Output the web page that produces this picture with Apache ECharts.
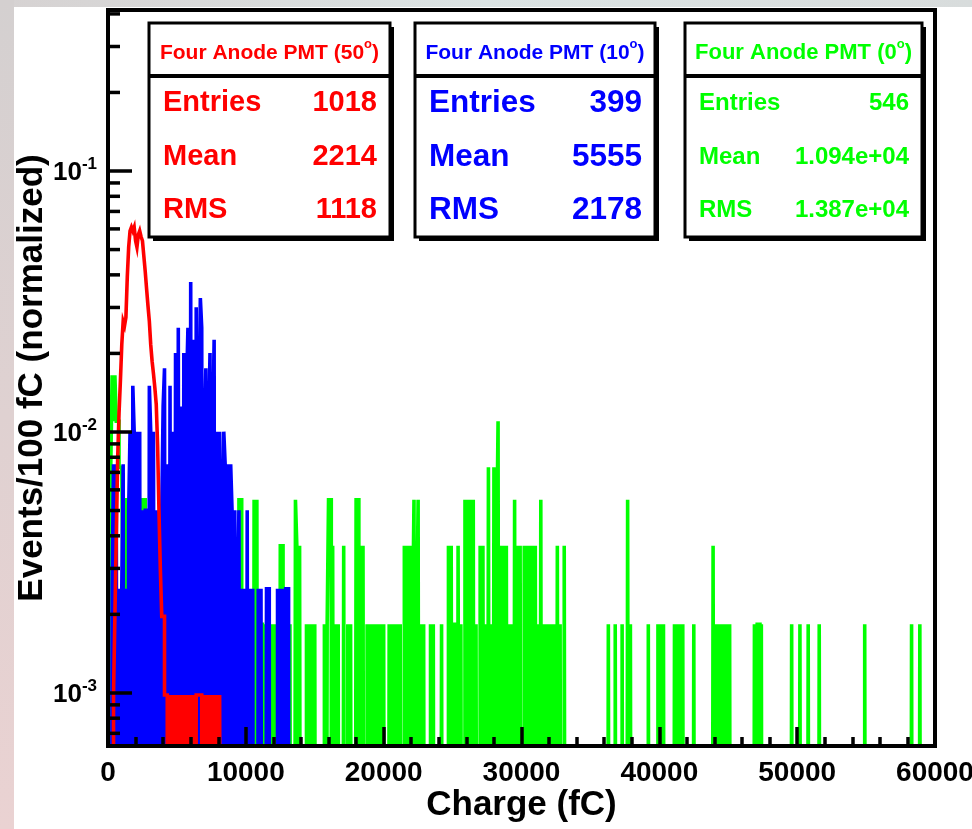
<!DOCTYPE html>
<html><head><meta charset="utf-8">
<script src="https://cdn.jsdelivr.net/npm/echarts@6/dist/echarts.min.js"></script>
<style>html,body{margin:0;padding:0;background:#fff}#c{width:972px;height:829px}</style>
</head><body><div id="c"></div>
<script>
// ---------------- data ----------------
const BIN_WIDTH = 100;      // fC per bin
const N_BINS = 600;         // 0 .. 60000 fC
const redEntries = 1018, blueEntries = 399, greenEntries = 546;

// red (50 deg): consecutive bin counts starting at bin 4 (400 fC)
const redFirstBin = 4;
const redCounts = [1,2,4,8,12,16,22,27,26,28,40,52,60,62,60,62,55,52,58,60,57,55,48,42,36,31,27,22,19,17,15,13,9,5,3,2,2,1,1,0,1,0,1,0,1,0,1,0,1,0,1,0,1,0,1,0,1,0,1,0,1,1,1,1,0,1,0,1,0,1,0,1,0,1,0,1,0,1,0];

// blue (10 deg): [bin, count] for non-empty bins
const blueBins = [[3,1],[4,3],[6,3],[8,1],[10,1],[11,3],[13,1],[15,2],[16,4],[18,6],[19,4],[21,4],[23,4],[25,2],[27,2],[28,2],[30,6],[31,4],[33,4],[35,2],[37,2],[39,2],[40,5],[41,7],[43,3],[45,6],[47,4],[49,8],[51,10],[53,5],[55,8],[57,6],[58,10],[60,15],[62,9],[64,12],[66,5],[67,13],[68,10],[70,4],[71,7],[73,4],[74,8],[76,4],[77,9],[79,4],[81,4],[83,2],[84,4],[85,3],[87,3],[89,3],[90,2],[92,2],[94,1],[95,2],[97,1],[99,1],[101,2],[103,1],[105,1],[109,1],[111,1],[115,1],[116,1],[123,1],[125,1],[127,1],[129,1],[130,1]];

// green (0 deg): [bin, count] for non-empty bins
const greenBins = [[2,4],[3,9],[4,6],[5,9],[6,6],[7,6],[8,4],[9,4],[10,4],[11,1],[13,3],[14,3],[16,1],[18,1],[20,1],[22,2],[23,2],[25,3],[26,3],[28,1],[30,2],[31,2],[32,2],[34,1],[36,1],[38,1],[40,4],[41,4],[42,4],[44,1],[46,1],[47,3],[48,3],[49,3],[51,1],[53,2],[55,2],[57,2],[59,2],[61,2],[63,1],[65,3],[66,2],[68,1],[70,2],[72,3],[73,3],[75,2],[77,1],[79,1],[81,1],[84,1],[86,1],[88,1],[90,1],[92,1],[95,3],[96,3],[98,1],[100,1],[102,1],[104,1],[106,3],[108,3],[110,1],[111,1],[113,1],[115,1],[117,1],[119,1],[121,1],[123,1],[125,2],[126,2],[128,1],[132,1],[136,3],[137,2],[139,2],[144,1],[146,1],[148,1],[150,1],[157,1],[159,1],[160,3],[161,3],[163,2],[165,1],[167,1],[171,2],[174,1],[176,1],[180,3],[181,3],[183,2],[185,2],[188,1],[190,1],[192,1],[194,1],[196,1],[198,1],[200,1],[204,1],[206,1],[208,1],[210,1],[212,1],[215,2],[217,2],[219,2],[221,1],[222,3],[224,1],[225,3],[227,1],[229,1],[234,1],[236,1],[242,1],[247,2],[249,2],[251,1],[252,1],[254,2],[256,1],[259,3],[261,3],[263,3],[265,3],[267,1],[270,2],[272,2],[274,1],[276,4],[278,1],[280,4],[282,2],[283,6],[285,2],[287,2],[289,2],[291,1],[293,1],[295,3],[297,2],[299,2],[302,2],[304,2],[306,2],[308,2],[310,2],[312,1],[314,3],[316,1],[318,1],[320,1],[322,1],[324,1],[326,2],[328,1],[331,2],[363,1],[368,1],[373,1],[377,3],[379,1],[392,1],[399,1],[401,1],[403,1],[411,1],[413,1],[415,1],[417,1],[425,1],[439,2],[441,1],[443,1],[445,1],[447,1],[449,1],[451,1],[469,1],[471,1],[472,1],[474,1],[496,1],[502,1],[508,1],[516,1],[549,1],[583,1],[589,1]];

// axis
const xMin = 0, xMax = 60000, xInterval = 10000;
const yMin = 6.26e-4, yMax = 0.414;
const yMinorTicks = [7e-4,8e-4,9e-4,2e-3,3e-3,4e-3,5e-3,6e-3,7e-3,8e-3,9e-3,2e-2,3e-2,4e-2,5e-2,6e-2,7e-2,8e-2,9e-2,2e-1,3e-1,4e-1];

// stat boxes
const statTitles = ['Four Anode PMT (50', 'Four Anode PMT (10', 'Four Anode PMT (0'];
const statLabels = ['Entries', 'Mean', 'RMS'];
const redStats = ['1018', '2214', '1118'];
const blueStats = ['399', '5555', '2178'];
const greenStats = ['546', '1.094e+04', '1.387e+04'];

// ---------------- build ----------------
const RED = '#ff0000', BLUE = '#0000ff', GREEN = '#00ff00';
const FLOOR = 1e-6;
const FONT = '"Liberation Sans", Arial, Helvetica, sans-serif';

function countsFromPairs(pairs) {
  const c = new Array(N_BINS).fill(0);
  pairs.forEach(p => { c[p[0]] = p[1]; });
  return c;
}
function countsFromRun(first, run) {
  const c = new Array(N_BINS).fill(0);
  run.forEach((v, i) => { c[first + i] = v; });
  return c;
}
function steps(counts, entries) {
  const pts = [];
  for (let i = 0; i < N_BINS; i++) pts.push([i * BIN_WIDTH, counts[i] > 0 ? counts[i] / entries : FLOOR]);
  pts.push([N_BINS * BIN_WIDTH, FLOOR]);
  return pts;
}
function histSeries(name, data, color, z) {
  return {
    name, type: 'line', data, step: 'end', showSymbol: false, symbol: 'none',
    clip: true, z, animation: false, silent: true,
    lineStyle: { color, width: 3.6, join: 'miter', cap: 'butt' }
  };
}

const chart = echarts.init(document.getElementById('c'), null, { renderer: 'canvas' });

const boxes = [
  { x: 149, w: 241, color: RED, title: statTitles[0], vals: redStats, fs: 29, ts: 21 },
  { x: 415, w: 240, color: BLUE, title: statTitles[1], vals: blueStats, fs: 31.5, ts: 21 },
  { x: 685, w: 237, color: GREEN, title: statTitles[2], vals: greenStats, fs: 24, ts: 22 }
];
const boxTop = 23, boxSep = 76, boxBottom = 237;
const rowY = [103, 157, 210];

const graphics = [
  { type: 'rect', shape: { x: 0, y: 0, width: 972, height: 7 }, z: -10,
    style: { fill: new echarts.graphic.LinearGradient(0, 0, 1, 0, [{ offset: 0, color: '#d6d2d2' }, { offset: 0.5, color: '#dbe3e3' }, { offset: 1, color: '#d8dcdc' }]) } },
  { type: 'rect', shape: { x: 0, y: 0, width: 14, height: 829 }, z: -10,
    style: { fill: new echarts.graphic.LinearGradient(0, 0, 0, 1, [{ offset: 0, color: '#d4d0d0' }, { offset: 1, color: '#ead2d2' }]) } }
];
boxes.forEach(b => {
  const h = boxBottom - boxTop;
  graphics.push({ type: 'rect', shape: { x: b.x + 4, y: boxTop + 4, width: b.w, height: h }, style: { fill: '#000' }, z: 20 });
  graphics.push({ type: 'rect', shape: { x: b.x, y: boxTop, width: b.w, height: h }, style: { fill: '#fff', stroke: '#000', lineWidth: 3 }, z: 21 });
  graphics.push({ type: 'line', shape: { x1: b.x, y1: boxSep, x2: b.x + b.w, y2: boxSep }, style: { stroke: '#000', lineWidth: 4 }, z: 22 });
  graphics.push({ type: 'text', x: b.x + b.w / 2, y: (boxTop + boxSep) / 2 + 1, z: 23,
    style: { text: '{t|' + b.title + '}{s|o}{t|)}', align: 'center', verticalAlign: 'middle',
      rich: { t: { fontSize: b.ts, fontWeight: 'bold', fontFamily: FONT, fill: b.color, lineHeight: 26, verticalAlign: 'bottom' },
              s: { fontSize: 13, fontWeight: 'bold', fontFamily: FONT, fill: b.color, lineHeight: 26, verticalAlign: 'top' } } } });
  statLabels.forEach((lab, i) => {
    graphics.push({ type: 'text', x: b.x + 14, y: rowY[i], z: 23,
      style: { text: lab, fill: b.color, fontSize: b.fs, fontWeight: 'bold', fontFamily: FONT, align: 'left', verticalAlign: 'middle' } });
    graphics.push({ type: 'text', x: b.x + b.w - 13, y: rowY[i], z: 23,
      style: { text: b.vals[i], fill: b.color, fontSize: b.fs, fontWeight: 'bold', fontFamily: FONT, align: 'right', verticalAlign: 'middle' } });
  });
});

const option = {
  backgroundColor: '#ffffff',
  animation: false,
  grid: { left: 108, right: 37, top: 10, bottom: 83, containLabel: false, outerBoundsMode: 'none',
          show: true, borderColor: '#000', borderWidth: 4, backgroundColor: 'transparent' },
  xAxis: {
    type: 'value', min: xMin, max: xMax, interval: xInterval, z: 10,
    name: 'Charge (fC)', nameLocation: 'middle', nameGap: 42, nameMoveOverlap: false,
    nameTextStyle: { fontSize: 35, fontWeight: 'bold', fontFamily: FONT, color: '#000' },
    axisLine: { show: true, lineStyle: { color: '#000', width: 4 } },
    axisTick: { show: true, inside: true, length: 19, lineStyle: { color: '#000', width: 3.5 } },
    minorTick: { show: true, splitNumber: 5, length: 9, lineStyle: { color: '#000', width: 3.5 } },
    splitLine: { show: false }, minorSplitLine: { show: false },
    axisLabel: { fontSize: 28, fontWeight: 'bold', fontFamily: FONT, color: '#000', margin: 13,
                 formatter: function (v) { return String(v); } }
  },
  yAxis: {
    type: 'log', logBase: 10, min: yMin, max: yMax, z: 10,
    name: 'Events/100 fC (normalized)', nameLocation: 'middle', nameGap: 58, nameRotate: 90, nameMoveOverlap: false,
    nameTextStyle: { fontSize: 35, fontWeight: 'bold', fontFamily: FONT, color: '#000' },
    axisLine: { show: true, lineStyle: { color: '#000', width: 4 } },
    axisTick: { show: true, inside: true, length: 24, lineStyle: { color: '#000', width: 3.5 } },
    splitLine: { show: false },
    axisLabel: {
      showMinLabel: false, showMaxLabel: false, margin: 11,
      formatter: function (v) {
        const e = Math.log10(v), r = Math.round(e);
        if (Math.abs(e - r) > 1e-6) return '';
        return '{b|10}{s|' + r + '}';
      },
      rich: {
        b: { fontSize: 26, fontWeight: 'bold', fontFamily: FONT, color: '#000', lineHeight: 30, verticalAlign: 'bottom' },
        s: { fontSize: 17, fontWeight: 'bold', fontFamily: FONT, color: '#000', lineHeight: 30, verticalAlign: 'top' }
      }
    }
  },
  series: [
    histSeries('Four Anode PMT (0)', steps(countsFromPairs(greenBins), greenEntries), GREEN, 2),
    histSeries('Four Anode PMT (10)', steps(countsFromPairs(blueBins), blueEntries), BLUE, 3),
    histSeries('Four Anode PMT (50)', steps(countsFromRun(redFirstBin, redCounts), redEntries), RED, 4),
    {
      type: 'custom', coordinateSystem: 'cartesian2d', z: 12, silent: true, clip: false,
      data: yMinorTicks.map(v => [xMin, v]),
      renderItem: function (params, api) {
        const p = api.coord([api.value(0), api.value(1)]);
        return { type: 'line', shape: { x1: p[0], y1: p[1], x2: p[0] + 12, y2: p[1] }, style: { stroke: '#000', lineWidth: 3.5 } };
      }
    }
  ],
  graphic: graphics
};
chart.setOption(option);
</script></body></html>
